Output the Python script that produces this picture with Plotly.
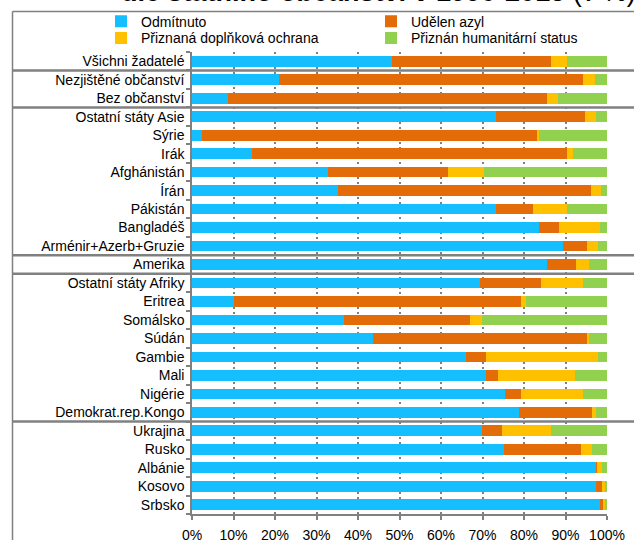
import plotly.graph_objects as go

categories = ["Všichni žadatelé", "Nezjištěné občanství", "Bez občanství",
              "Ostatní státy Asie", "Sýrie", "Irák", "Afghánistán", "Írán",
              "Pákistán", "Bangladéš", "Arménir+Azerb+Gruzie", "Amerika",
              "Ostatní státy Afriky", "Eritrea", "Somálsko", "Súdán", "Gambie",
              "Mali", "Nigérie", "Demokrat.rep.Kongo", "Ukrajina", "Rusko",
              "Albánie", "Kosovo", "Srbsko"]

odmitnuto = [48.1, 20.9, 8.7, 73.2, 2.3, 14.4, 32.8, 35.2, 73.2, 83.6, 89.4, 85.6,
             69.4, 10.0, 36.6, 43.7, 66.0, 70.8, 75.5, 78.9, 69.8, 75.1, 97.4, 97.4, 98.4]
azyl = [38.3, 73.2, 76.8, 21.4, 80.8, 75.9, 28.9, 60.9, 8.9, 4.8, 5.7, 7.0,
        14.6, 69.3, 30.4, 51.4, 4.8, 2.9, 3.8, 17.6, 4.9, 18.6, 0.2, 1.3, 0.7]
doplnkova = [4.0, 2.9, 2.6, 2.8, 0.6, 1.5, 8.7, 2.4, 8.3, 10.0, 2.8, 3.0,
             10.1, 1.1, 2.8, 0.5, 27.1, 18.5, 14.8, 0.9, 11.8, 2.8, 1.3, 0.7, 0.5]
humanitarni = [9.6, 3.0, 11.9, 2.6, 16.3, 8.2, 29.6, 1.5, 9.6, 1.6, 2.1, 4.4,
               5.9, 19.6, 30.2, 4.4, 2.1, 7.8, 5.9, 2.6, 13.5, 3.5, 1.1, 0.6, 0.7]

series_names = ["Odmítnuto", "Udělen azyl", "Přiznaná doplňková ochrana",
                "Přiznán humanitární status"]
series_values = [odmitnuto, azyl, doplnkova, humanitarni]
series_colors = ["#14BEFF", "#E36C09", "#FFC000", "#92D050"]
series_legend = ["legend", "legend", "legend2", "legend2"]

x_ticks = list(range(0, 101, 10))
x_ticklabels = [f"{v}%" for v in x_ticks]

# group separators (after these row indices)
separators_after = [0, 2, 10, 11, 19]

FONT = "Liberation Sans, Arial, sans-serif"
GREY = "#808080"

ypos = list(range(len(categories)))

fig = go.Figure()
for name, vals, col, lg in zip(series_names, series_values, series_colors, series_legend):
    fig.add_trace(go.Bar(
        x=vals, y=ypos, orientation="h", name=name, legend=lg,
        marker=dict(color=col, line=dict(width=0)),
        width=0.58,
    ))

W, H = 634, 540
L, T = 192, 52
pw, ph = 415, 462
R = W - L - pw
B = H - T - ph

def px_x(px):
    return (px - L) / pw

def px_y(py):
    return (T + ph - py) / ph

shapes = []
for i in separators_after:
    shapes.append(dict(type="line", xref="paper", yref="y",
                       x0=px_x(12.5), x1=px_x(W + 5), y0=i + 0.5, y1=i + 0.5,
                       line=dict(color=GREY, width=2.5)))
# outer frame of chart area (top and left edges; the rest lies off the page)
shapes.append(dict(type="line", xref="paper", yref="paper",
                   x0=px_x(12.5), x1=px_x(W + 10), y0=px_y(11.5), y1=px_y(11.5),
                   line=dict(color=GREY, width=1.5), layer="above"))
shapes.append(dict(type="line", xref="paper", yref="paper",
                   x0=px_x(12.5), x1=px_x(12.5), y0=px_y(11.5), y1=px_y(H + 10),
                   line=dict(color=GREY, width=1.5), layer="above"))

legend_common = dict(orientation="h", xanchor="left", yanchor="top",
                     entrywidth=225, entrywidthmode="pixels",
                     bgcolor="rgba(0,0,0,0)", font=dict(size=14, family=FONT),
                     traceorder="normal", itemclick=False)

fig.update_layout(
    width=W, height=H,
    margin=dict(l=L, r=R, t=T, b=B, pad=0, autoexpand=False),
    barmode="stack",
    plot_bgcolor="white", paper_bgcolor="white",
    font=dict(family=FONT, size=14, color="black"),
    showlegend=True,
    legend=dict(x=px_x(101), y=px_y(5.7), **legend_common),
    legend2=dict(x=px_x(101), y=px_y(22.3), **legend_common),
    shapes=shapes,
    annotations=[dict(
        text="<b>dle státního občanství v 1990-2015</b> (v %)",
        xref="paper", yref="paper", x=px_x(378.5), y=px_y(-8),
        xanchor="center", yanchor="middle", showarrow=False,
        font=dict(size=27, family=FONT, color="black"))],
)

fig.update_xaxes(
    range=[0, 100], tickvals=x_ticks, ticktext=x_ticklabels,
    showgrid=True, gridcolor=GREY, griddash="2px,3px", gridwidth=1.5,
    showline=True, linecolor=GREY, linewidth=1.5,
    ticks="outside", ticklen=4, tickcolor=GREY, tickwidth=1.5,
    ticklabelstandoff=3, zeroline=False, automargin=False,
    tickfont=dict(size=14, family=FONT),
)
fig.update_yaxes(
    range=[len(categories) - 0.5, -0.5], tickvals=ypos, ticktext=categories,
    showgrid=False, zeroline=False,
    showline=True, linecolor=GREY, linewidth=1.5,
    ticks="", ticklabelstandoff=3, automargin=False,
    minor=dict(ticks="outside", ticklen=4, tickcolor=GREY, tickwidth=1.5,
               tick0=-0.5, dtick=1, showgrid=False),
    tickfont=dict(size=14, family=FONT),
)

fig.write_html("out.html",
               config={"displayModeBar": False},
               post_script="document.body.style.margin='0px';")
